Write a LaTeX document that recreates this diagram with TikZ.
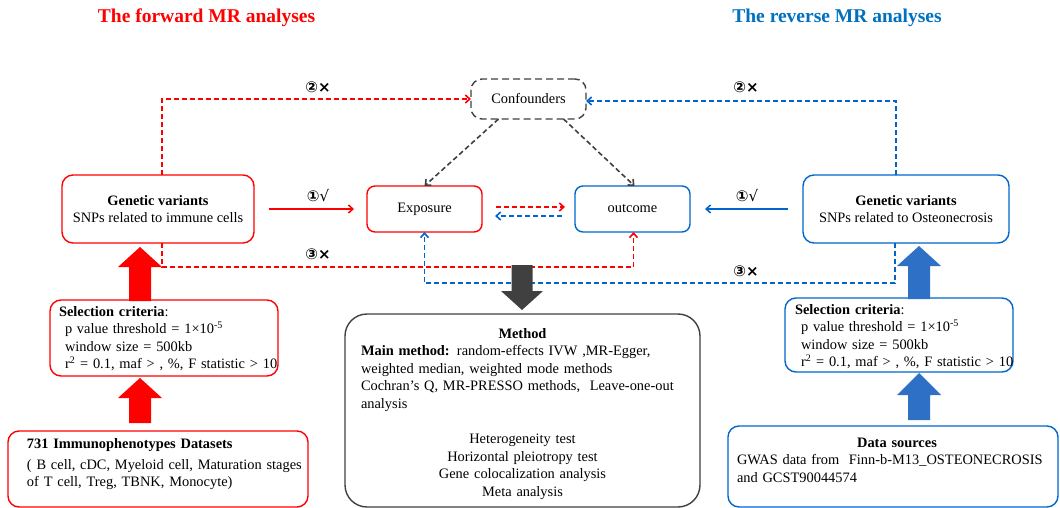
\documentclass[tikz,border=0pt]{standalone}
\usepackage{fontspec}
\setmainfont{Liberation Serif}
\newfontfamily\symsans{DejaVu Sans}
\newfontfamily\symserif{DejaVu Serif}
\usetikzlibrary{arrows.meta,calc}
\definecolor{myred}{RGB}{255,0,0}
\definecolor{myblue}{RGB}{0,102,204}
\definecolor{titleblue}{RGB}{0,112,192}
\definecolor{bigblue}{RGB}{46,112,198}
\definecolor{darkg}{RGB}{64,64,64}
% fat block arrows: #1 colour, #2 base point, #3 tip point, #4 half shaft, #5 half head, #6 signed head length (positive = tip above base)
\newcommand\fatarr[6]{%
  \fill[#1] ($(#2)+(-#4,0)$) -- ($(#3)+(-#4,#6)$) -- ($(#3)+(-#5,#6)$) -- (#3)
    -- ($(#3)+(#5,#6)$) -- ($(#3)+(#4,#6)$) -- ($(#2)+(#4,0)$) -- cycle;}
\begin{document}
\begin{tikzpicture}[x=1pt,y=-1pt,
  every node/.style={inner sep=0pt, outer sep=0pt},
  txt/.style={font=\fontsize{14.4}{17.6}\selectfont},
  box/.style={rounded corners=11pt, line width=1.4pt, fill=white, txt, align=center},
  redbox/.style={box, draw=myred},
  bluebox/.style={box, draw=myblue},
  graybox/.style={box, draw=darkg},
  textblock/.style={txt, anchor=north west, align=left, execute at begin node=\strut},
  ttl/.style={font=\fontsize{19.5}{22}\selectfont\bfseries},
  lbl/.style={font=\symsans\bfseries\fontsize{15}{15}\selectfont},
  tipb/.style={-{Straight Barb[length=4.5pt,width=8pt]}},
  dsh/.style={line width=1.6pt, dash pattern=on 5pt off 3pt, tipb},
  reddash/.style={draw=myred, dsh},
  bluedash/.style={draw=myblue, dsh},
  graydash/.style={draw=darkg, dsh},
  redsolid/.style={draw=myred, line width=1.5pt, tipb},
  bluesolid/.style={draw=myblue, line width=1.5pt, tipb},
]
\useasboundingbox (0,0) rectangle (1060,508);

% titles
\node[ttl, text=myred] (t1) at (206.5,18) {The forward MR analyses};
\node[ttl, text=titleblue] (t2) at (837,18) {The reverse MR analyses};

% main boxes
\node[graybox, dash pattern=on 7pt off 4pt, minimum width=115pt, minimum height=40pt] (conf) at (528.5,99) {Confounders};
\node[redbox, minimum width=192pt, minimum height=68pt] (gvL) at (158,209) {\textbf{Genetic variants}\\SNPs related to immune cells};
\node[redbox, rounded corners=8pt, minimum width=115pt, minimum height=46pt] (expo) at (424.5,209) {Exposure};
\node[bluebox, rounded corners=8pt, minimum width=115pt, minimum height=46pt] (outc) at (632.5,209) {outcome};
\node[bluebox, minimum width=206pt, minimum height=68pt] (gvR) at (906,209) {\textbf{Genetic variants}\\SNPs related to Osteonecrosis};

% lower boxes
\node[redbox, anchor=north west, minimum width=228pt, minimum height=76pt] (selL) at (50,300) {};
\node[redbox, anchor=north west, minimum width=300pt, minimum height=76pt] (dataL) at (8,431) {};
\node[graybox, rounded corners=22pt, anchor=north west, minimum width=355pt, minimum height=193pt] (method) at (345,314) {};
\node[bluebox, anchor=north west, minimum width=228pt, minimum height=74pt] (selR) at (785,298) {};
\node[bluebox, anchor=north west, minimum width=330pt, minimum height=81pt] (dataR) at (728,426) {};

% texts in lower boxes
\node[textblock, text width=225pt] (selLt) at (59,303.7) {\textbf{Selection criteria}:\\
\hspace*{6pt}p value threshold = 1×10\textsuperscript{-5}\\
\hspace*{6pt}window size = 500kb\\
\hspace*{6pt}r\textsuperscript{2} = 0.1, maf > , \%, F statistic > 10};
\node[textblock, text width=225pt] (selRt) at (795,301.7) {\textbf{Selection criteria}:\\
\hspace*{6pt}p value threshold = 1×10\textsuperscript{-5}\\
\hspace*{6pt}window size = 500kb\\
\hspace*{6pt}r\textsuperscript{2} = 0.1, maf > , \%, F statistic > 10};
\node[textblock, text width=290pt] (dataLt) at (27,435.7) {\textbf{731 Immunophenotypes Datasets}\\[3.4pt]
( B cell, cDC, Myeloid cell, Maturation stages\\
of T cell, Treg, TBNK, Monocyte)};
\node[textblock, text width=323pt] (methodt) at (361,325.7) {\makebox[323pt]{\textbf{Method}}\\
\textbf{Main method:} random-effects IVW ,MR-Egger,\\
weighted median, weighted mode methods\\
Cochran’s Q, MR-PRESSO methods,\ \ Leave-one-out\\
analysis\\[17.6pt]
\makebox[323pt]{Heterogeneity test}\\
\makebox[323pt]{Horizontal pleiotropy test}\\
\makebox[323pt]{Gene colocalization analysis}\\
\makebox[323pt]{Meta analysis}};
\node[textblock, text width=320pt] (dataRt) at (737,434.7) {\makebox[320pt]{\textbf{Data sources}}\\
GWAS data from\ \ Finn-b-M13\_OSTEONECROSIS\\
and GCST90044574};

% labels
\node[lbl] (l2L) at (318,87) {②×};
\node[lbl] (l1L) at (318,196) {①{\symserif\mdseries √}};
\node[lbl] (l3L) at (318,254) {③×};
\node[lbl] (l2R) at (746,87) {②×};
\node[lbl] (l1R) at (747,196) {①{\symserif\mdseries √}};
\node[lbl] (l3R) at (746,271) {③×};

% connectors
\draw[reddash] ([xshift=4pt]gvL.north) |- (conf.west);
\draw[bluedash] ([xshift=-10pt]gvR.north) |- ([yshift=-2pt]conf.east);
\draw[graydash] ([xshift=-30pt]conf.south) -- (expo.north);
\draw[graydash] ([xshift=35pt]conf.south) -- ([xshift=2pt]outc.north);
\draw[redsolid, shorten <=15pt, shorten >=13pt] (gvL) -- (expo);
\draw[bluesolid, shorten <=15pt, shorten >=15pt] (gvR) -- (outc);
\draw[reddash, shorten <=14pt, shorten >=10pt] ([yshift=2pt]expo.east) -- ([yshift=2pt]outc.west);
\draw[bluedash, shorten <=13pt, shorten >=13pt] ([yshift=-7pt]outc.west) -- ([yshift=-7pt]expo.east);
\draw[reddash] ([xshift=4pt]gvL.south) -- ++(0,24) -| ([xshift=1pt]outc.south);
\draw[bluedash] ([xshift=-11pt]gvR.south) -- ++(0,40) -| (expo.south);

% big block arrows
\coordinate (axL) at (140,0);
\coordinate (axR) at (919,0);
\coordinate (gst) at (522,265);
\coordinate (rA1) at ([yshift=-1pt]selL.north -| axL);
\coordinate (rA2) at ([yshift=-4pt]gvL.south -| axL);
\coordinate (rB1) at ([yshift=8pt]dataL.north -| axL);
\coordinate (rB2) at ([yshift=-2pt]selL.south -| axL);
\coordinate (bA1) at ([yshift=-1pt]selR.north -| axR);
\coordinate (bA2) at ([yshift=-3pt]gvR.south -| axR);
\coordinate (bB1) at ([yshift=6pt]dataR.north -| axR);
\coordinate (bB2) at ([yshift=-1pt]selR.south -| axR);
\coordinate (gEnd) at ([yshift=4pt]method.north -| gst);
\fatarr{myred}{rA1}{rA2}{11}{22}{20}
\fatarr{myred}{rB1}{rB2}{11}{22}{20}
\fatarr{bigblue}{bA1}{bA2}{11}{22}{20}
\fatarr{bigblue}{bB1}{bB2}{11}{22}{22}
\fatarr{darkg}{gst}{gEnd}{10.5}{21}{-19}
\end{tikzpicture}
\end{document}
